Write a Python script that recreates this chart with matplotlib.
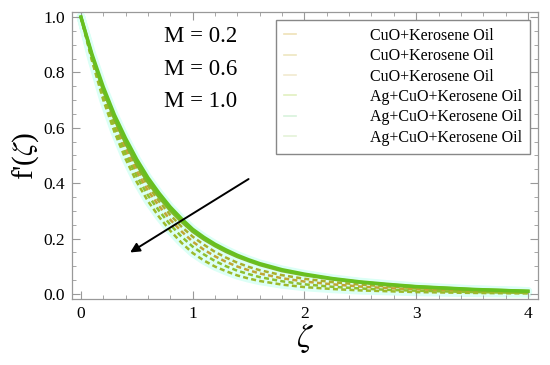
import matplotlib

matplotlib.use("Agg")
import matplotlib.pyplot as plt  # noqa: E402
from matplotlib.lines import Line2D  # noqa: E402
from matplotlib.ticker import MultipleLocator  # noqa: E402

zeta = [0.0, 0.1, 0.2, 0.3, 0.4, 0.5, 0.6, 0.7, 0.8, 0.9, 1.0, 1.1, 1.2, 1.3,
        1.4, 1.5, 1.6, 1.8, 2.0, 2.25, 2.5, 2.75, 3.0, 3.5, 4.0]

solid_a = [1.0, 0.865, 0.748, 0.647, 0.562, 0.486, 0.420, 0.364, 0.314, 0.272,
           0.234, 0.205, 0.180, 0.159, 0.140, 0.124, 0.110, 0.088, 0.072, 0.056,
           0.044, 0.035, 0.027, 0.017, 0.010]
solid_b = [1.0, 0.858, 0.737, 0.633, 0.545, 0.468, 0.404, 0.350, 0.302, 0.262,
           0.226, 0.198, 0.174, 0.153, 0.135, 0.120, 0.106, 0.084, 0.069, 0.054,
           0.042, 0.033, 0.026, 0.016, 0.010]
dash_a = [1.0, 0.855, 0.730, 0.625, 0.534, 0.456, 0.390, 0.334, 0.285, 0.243,
          0.207, 0.178, 0.152, 0.131, 0.113, 0.098, 0.086, 0.068, 0.055, 0.043,
          0.034, 0.027, 0.021, 0.013, 0.008]
dash_b = [1.0, 0.850, 0.720, 0.612, 0.520, 0.440, 0.373, 0.317, 0.268, 0.226,
          0.189, 0.160, 0.136, 0.116, 0.099, 0.086, 0.074, 0.057, 0.045, 0.035,
          0.027, 0.021, 0.017, 0.010, 0.006]
dash_c = [1.0, 0.845, 0.712, 0.600, 0.505, 0.424, 0.356, 0.300, 0.250, 0.207,
          0.171, 0.143, 0.119, 0.100, 0.084, 0.072, 0.061, 0.046, 0.035, 0.026,
          0.020, 0.015, 0.012, 0.007, 0.004]
dash_d = [1.0, 0.840, 0.700, 0.585, 0.487, 0.404, 0.335, 0.278, 0.228, 0.185,
          0.148, 0.121, 0.099, 0.082, 0.067, 0.056, 0.047, 0.034, 0.025, 0.018,
          0.013, 0.010, 0.007, 0.004, 0.002]

legend_labels = ["CuO+Kerosene Oil", "CuO+Kerosene Oil", "CuO+Kerosene Oil",
                 "Ag+CuO+Kerosene Oil", "Ag+CuO+Kerosene Oil", "Ag+CuO+Kerosene Oil"]
legend_colors = ["#efe2b8", "#eee6c0", "#f1ead0", "#e2f0c0", "#d8f2dc", "#e4f2d8"]
m_labels = ["M = 0.2", "M = 0.6", "M = 1.0"]

plt.rcParams["font.family"] = ["Liberation Serif", "DejaVu Serif"]
plt.rcParams["mathtext.fontset"] = "stix"

fig = plt.figure(figsize=(5.5, 3.65), dpi=100)
ax = fig.add_axes([72 / 550, 1 - 299 / 365, 466 / 550, 287 / 365])

halo = "#dcfff6"
for ys in (dash_a, dash_b, dash_c, dash_d, solid_a, solid_b):
    ax.plot(zeta, ys, color=halo, lw=6, solid_capstyle="round", zorder=1)

dash_colors = ["#a8b02c", "#c0a534", "#8fbf2e", "#9cba2a"]
for ys, c in zip((dash_a, dash_b, dash_c, dash_d), dash_colors):
    ax.plot(zeta, ys, color=c, lw=1.8, dashes=(2.0, 1.3), zorder=2)
ax.plot(zeta, solid_b, color="#7ab826", lw=2.4, zorder=3)
ax.plot(zeta, solid_a, color="#66c020", lw=2.4, zorder=3)

ax.annotate("", xy=(0.44, 0.15), xytext=(1.5, 0.415),
            arrowprops=dict(arrowstyle="-|>", color="black", lw=1.4,
                            mutation_scale=14, shrinkA=0, shrinkB=0))

for i, t in enumerate(m_labels):
    ax.text(0.74, 0.928 - i * 0.116, t, fontsize=16.5, ha="left", va="center")

handles = [Line2D([0], [0], color=c, lw=1.2) for c in legend_colors]
leg = ax.legend(handles, legend_labels, loc="upper right",
                bbox_to_anchor=(530 / 550, 1 - 20 / 365),
                bbox_transform=fig.transFigure, fontsize=11.5,
                handlelength=0.8, handletextpad=4.6, labelspacing=0.27,
                borderpad=0.5, borderaxespad=0, fancybox=False, framealpha=1)
leg.get_frame().set_edgecolor("#888888")
leg.get_frame().set_linewidth(1.0)

ax.set_xlim(-0.08, 4.09)
ax.set_ylim(-0.018, 1.018)
ax.xaxis.set_major_locator(MultipleLocator(1))
ax.xaxis.set_minor_locator(MultipleLocator(0.2))
ax.yaxis.set_major_locator(MultipleLocator(0.2))
ax.yaxis.set_minor_locator(MultipleLocator(0.05))
ax.xaxis.set_major_formatter(lambda v, p: f"{v:.0f}")
ax.yaxis.set_major_formatter(lambda v, p: f"{v:.1f}")
ax.tick_params(which="both", direction="in", top=True, right=True,
               color="#999999", labelsize=12.5)
ax.tick_params(which="major", length=6, width=0.8, pad=5)
ax.tick_params(which="minor", length=3, width=0.6)
for s in ax.spines.values():
    s.set_color("#999999")
    s.set_linewidth(0.9)

ax.set_xlabel(r"$\zeta$", fontsize=24, labelpad=0)
ax.set_ylabel(r"f'($\zeta$)", fontsize=21, labelpad=2)

fig.savefig("out.png", dpi=100)
